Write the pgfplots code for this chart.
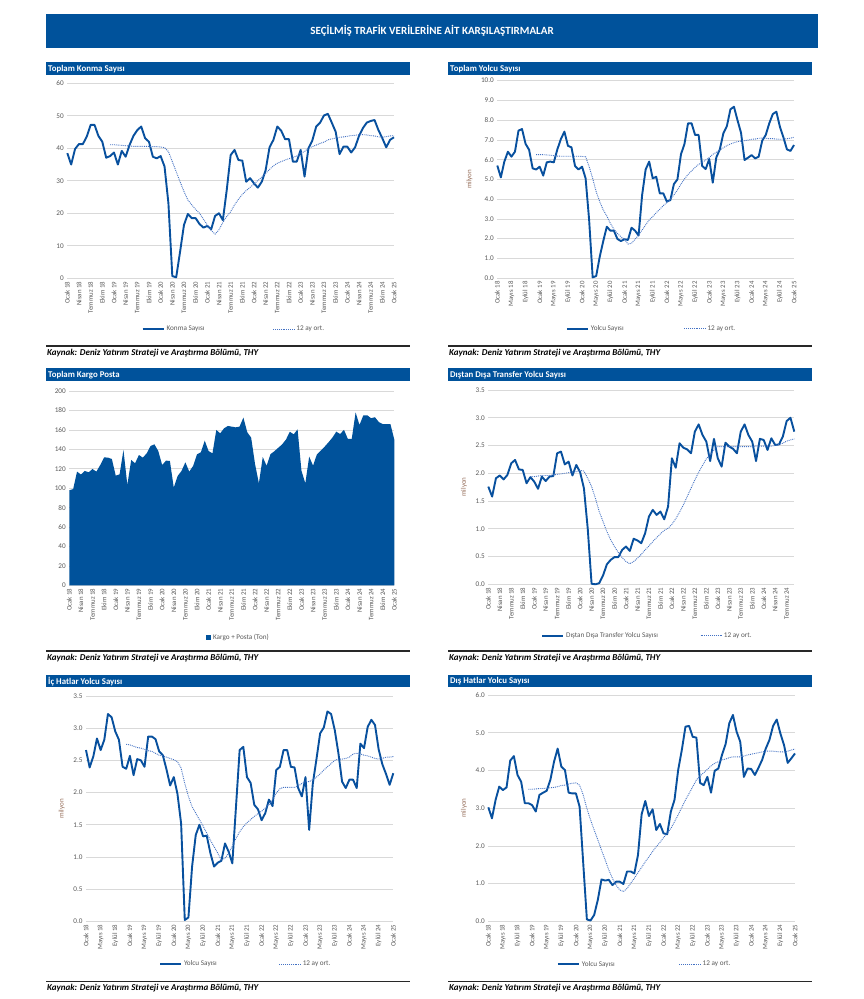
\documentclass[border=0pt]{standalone}
\usepackage{pgfplots}
\pgfplotsset{compat=1.18}
\usepackage{fontspec}
\setmainfont{Carlito}
\definecolor{hdr}{RGB}{0,82,155}
\definecolor{ln}{RGB}{8,80,158}
\definecolor{avg}{RGB}{68,114,196}
\definecolor{grd}{RGB}{217,217,217}
\definecolor{tck}{RGB}{89,89,89}
\definecolor{ylab}{RGB}{150,110,90}
\definecolor{rule}{RGB}{40,40,40}

\pgfplotsset{
  panel/.style={
    scale only axis,
    anchor=south west,
    axis line style={draw=none},
    major tick length=0pt,
    ymajorgrids, grid style={grd, line width=0.6pt},
    ymin=0,
    clip=false,
    tick label style={color=tck},
    yticklabel style={font=\fontsize{7.2}{8}\selectfont},
    xticklabel style={font=\fontsize{6.8}{7}\selectfont, rotate=90, anchor=east},
    /pgf/number format/assume math mode=true,
    legend style={draw=none, fill=none, font=\fontsize{7.2}{8}\selectfont, text=tck, legend columns=2, anchor=center},
    legend cell align=left,
    legend image code/.code={\draw[##1] (0pt,0pt) -- (21pt,0pt);},
    ylabel style={font=\fontsize{7}{8}\selectfont, color=ylab, anchor=center},
  },
  solidl/.style={ln, line width=1.9pt, line join=round},
  avgl/.style={avg, line width=0.9pt, densely dotted},
  qlab/.style={xtick={0,3,...,84}, xticklabels={Ocak 18,Nisan 18,Temmuz 18,Ekim 18,Ocak 19,Nisan 19,Temmuz 19,Ekim 19,Ocak 20,Nisan 20,Temmuz 20,Ekim 20,Ocak 21,Nisan 21,Temmuz 21,Ekim 21,Ocak 22,Nisan 22,Temmuz 22,Ekim 22,Ocak 23,Nisan 23,Temmuz 23,Ekim 23,Ocak 24,Nisan 24,Temmuz 24,Ekim 24,Ocak 25}},
  mlab/.style={xtick={0,4,...,84}, xticklabels={Ocak 18,Mayıs 18,Eylül 18,Ocak 19,Mayıs 19,Eylül 19,Ocak 20,Mayıs 20,Eylül 20,Ocak 21,Mayıs 21,Eylül 21,Ocak 22,Mayıs 22,Eylül 22,Ocak 23,Mayıs 23,Eylül 23,Ocak 24,Mayıs 24,Eylül 24,Ocak 25}},
  dec1/.style={yticklabel style={/pgf/number format/fixed, /pgf/number format/fixed zerofill, /pgf/number format/precision=1}},
}

\begin{document}
\begin{tikzpicture}[x=1pt,y=1pt]
\fill[white] (0,0) rectangle (864,999);
% main banner
\fill[hdr] (46,951) rectangle (818,985);
\node[text=white, font=\bfseries\fontsize{11}{12}\selectfont] at (432,968) {SEÇİLMİŞ TRAFİK VERİLERİNE AİT KARŞILAŞTIRMALAR};
% panel title bars
\fill[hdr] (46,924) rectangle (410,936.5);
\fill[hdr] (448,924) rectangle (812,936.5);
\fill[hdr] (46,618) rectangle (410,630.5);
\fill[hdr] (448,618) rectangle (812,630.5);
\fill[hdr] (46,312) rectangle (410,323.5);
\fill[hdr] (448,312) rectangle (812,323.5);
\begin{scope}[every node/.style={anchor=west, text=white, font=\bfseries\fontsize{8.8}{9}\selectfont, inner sep=0pt}]
\node at (48,930) {Toplam Konma Sayısı};
\node at (450,930) {Toplam Yolcu Sayısı};
\node at (48,624) {Toplam Kargo Posta};
\node at (450,624) {Dıştan Dışa Transfer Yolcu Sayısı};
\node at (48,317.7) {İç Hatlar Yolcu Sayısı};
\node at (450,317.7) {Dış Hatlar Yolcu Sayısı};
\end{scope}
% source rules and texts
\draw[rule, line width=1.2pt] (46,653) -- (410,653);
\draw[rule, line width=1.2pt] (448,653) -- (812,653);
\draw[rule, line width=1.2pt] (46,348) -- (410,348);
\draw[rule, line width=1.2pt] (448,348) -- (812,348);
\draw[rule, line width=1.2pt] (46,17.5) -- (410,17.5);
\draw[rule, line width=1.2pt] (448,17.5) -- (812,17.5);
\begin{scope}[every node/.style={anchor=west, font=\bfseries\itshape\fontsize{9}{10}\selectfont, inner sep=0pt}]
\node at (47,646.3) {Kaynak: Deniz Yatırım Strateji ve Araştırma Bölümü, THY};
\node at (449,646.3) {Kaynak: Deniz Yatırım Strateji ve Araştırma Bölümü, THY};
\node at (47,341) {Kaynak: Deniz Yatırım Strateji ve Araştırma Bölümü, THY};
\node at (449,341) {Kaynak: Deniz Yatırım Strateji ve Araştırma Bölümü, THY};
\node at (47,11) {Kaynak: Deniz Yatırım Strateji ve Araştırma Bölümü, THY};
\node at (449,11) {Kaynak: Deniz Yatırım Strateji ve Araştırma Bölümü, THY};
\end{scope}

% ---------- Panel 1: Toplam Konma Sayisi
\begin{axis}[panel, at={(67.3pt,720.7pt)}, width=326.7pt, height=195pt,
  xmin=0, xmax=84, ymax=60, ytick={0,10,...,60}, qlab,
  legend style={at={(0.51,-0.26)}, /tikz/every even column/.append style={column sep=66pt}}]
\addplot[solidl] table[row sep=\\, header=false, x expr=\coordindex, y index=0] {
38.5\\35\\39.8\\41.3\\41.3\\43.6\\47.2\\47.2\\43.8\\42\\
37.1\\37.6\\38.7\\35\\39.2\\37.4\\41\\43.8\\45.6\\46.7\\
43.1\\42\\37.4\\36.9\\37.6\\34.4\\23.1\\0.7\\0.3\\8.2\\
16.4\\19.8\\18.5\\18.5\\16.7\\15.6\\16.1\\15.1\\19.2\\20\\
17.9\\27.2\\37.9\\39.5\\36.4\\36.2\\29.7\\30.8\\29.2\\27.9\\
29.7\\33.3\\40.3\\42.6\\46.7\\45.4\\42.8\\42.8\\35.9\\35.9\\
39.5\\31.3\\40\\42.4\\46.7\\47.9\\50.1\\50.6\\47.9\\45.1\\
38.2\\40.5\\40.5\\38.7\\40.3\\43.8\\46.2\\47.9\\48.4\\48.7\\
45.6\\43.1\\40.3\\42.6\\43.4\\};
\addlegendentry{Konma Sayısı}
\addplot[avgl] table[row sep=\\, header=false, x expr=\coordindex+11, y index=0] {
41.1\\41.1\\41\\40.9\\40.8\\40.7\\40.6\\40.6\\40.6\\40.6\\40.6\\40.5\\40.5\\40.4\\
40.2\\
39\\35.9\\32.8\\29.7\\26.7\\24.1\\22.6\\21.2\\20\\18.2\\16.4\\14.7\\13.6\\
14.9\\17.2\\19\\20.5\\22.6\\24.3\\25.8\\27\\28\\29\\30.1\\31.1\\
32.3\\33.5\\34.6\\35.4\\35.9\\36.4\\36.8\\37.2\\37.6\\38.5\\39\\40\\
40.5\\41\\41.5\\41.9\\42.6\\42.9\\43.1\\43.4\\43.5\\43.7\\43.9\\44\\
44.2\\44.2\\44.1\\43.9\\43.8\\43.5\\43.4\\43.6\\43.8\\43.9\\};
\addlegendentry{12 ay ort.}
\end{axis}

% ---------- Panel 2: Toplam Yolcu Sayisi
\begin{axis}[panel, at={(497.3pt,721pt)}, width=296.7pt, height=197.3pt,
  xmin=0, xmax=84, ymax=10, ytick={0,1,...,10}, mlab, dec1,
  ylabel={milyon}, ylabel style={at={(axis description cs:-0.094,0.5)}},
  legend style={at={(0.52,-0.258)}, /tikz/every even column/.append style={column sep=58pt}}]
\addplot[solidl] table[row sep=\\, header=false, x expr=\coordindex, y index=0] {
5.7\\5.1\\5.9\\6.4\\6.15\\6.4\\7.47\\7.55\\6.8\\6.5\\
5.56\\5.5\\5.64\\5.19\\5.86\\5.9\\5.86\\6.52\\7.04\\7.42\\
6.7\\6.62\\5.68\\5.5\\5.64\\5.05\\2.94\\0.03\\0.1\\1.08\\
1.87\\2.6\\2.4\\2.4\\1.98\\1.87\\1.96\\1.93\\2.55\\2.4\\
2.15\\4.2\\5.5\\5.9\\5.05\\5.13\\4.29\\4.29\\3.87\\3.95\\
4.76\\5\\6.27\\6.8\\7.84\\7.84\\7.25\\7.25\\5.68\\5.52\\
6.03\\4.83\\6.11\\6.52\\7.33\\7.7\\8.55\\8.68\\8.0\\7.36\\
5.98\\6.1\\6.23\\6.06\\6.15\\6.96\\7.25\\7.84\\8.31\\8.43\\
7.67\\7.13\\6.52\\6.44\\6.74\\};
\addlegendentry{Yolcu Sayısı}
\addplot[avgl] table[row sep=\\, header=false, x expr=\coordindex+11, y index=0] {
6.25\\6.25\\6.25\\6.24\\6.22\\6.2\\6.18\\6.17\\6.17\\6.17\\6.17\\6.17\\6.17\\6.16\\6.15\\
5.64\\5.05\\4.37\\3.87\\3.45\\3.14\\2.77\\2.48\\2.26\\2.09\\1.96\\1.72\\1.76\\
1.96\\2.18\\2.43\\2.69\\2.94\\3.11\\3.31\\3.48\\3.67\\3.82\\3.99\\4.21\\
4.46\\4.76\\5.02\\5.25\\5.42\\5.61\\5.76\\5.86\\5.98\\6.1\\6.27\\6.37\\
6.49\\6.6\\6.71\\6.79\\6.86\\6.91\\6.94\\6.96\\6.99\\7.03\\7.04\\7.08\\
7.09\\7.08\\7.06\\7.06\\7.04\\7.03\\7.03\\7.06\\7.09\\7.13\\};
\addlegendentry{12 ay ort.}
\end{axis}

% ---------- Panel 3: Toplam Kargo Posta
\begin{axis}[panel, at={(69.3pt,413.7pt)}, width=325pt, height=194.3pt,
  xmin=0, xmax=84, ymax=200, ytick={0,20,...,200}, qlab,
  legend image code/.code={\fill[hdr] (0pt,-2.6pt) rectangle (5.2pt,2.6pt);},
  legend style={at={(0.52,-0.27)}}]
\addplot[fill=hdr, draw=none] table[row sep=\\, header=false, x expr=\coordindex, y index=0] {
97.8\\99\\117\\114\\117.7\\116.3\\119.7\\117\\123.8\\131.7\\
131.4\\130\\112.9\\114.2\\139.3\\103.3\\129\\125.6\\134.1\\131.4\\
135.8\\143.4\\145.1\\138.2\\123.8\\128.3\\128\\100.5\\112.5\\117.7\\
126.6\\117\\122.8\\134.8\\136.9\\148.9\\138.2\\135.8\\159.9\\156.4\\
161.6\\164\\163.3\\162.6\\163.3\\172.6\\157.5\\152\\125\\105\\
132\\123\\135\\138\\141.5\\145\\150\\158\\155.4\\160.5\\
118\\105\\132.4\\123.2\\134.8\\138.6\\142.7\\147.2\\152\\158.1\\
155.7\\160\\150.6\\150.6\\178\\165\\175\\175\\172\\173\\
168\\166\\166\\166\\150\\} \closedcycle;
\addlegendentry{Kargo + Posta (Ton)}
\end{axis}

% ---------- Panel 4: Distan Disa Transfer
\begin{axis}[panel, at={(488.3pt,414.7pt)}, width=306pt, height=194.3pt,
  xmin=0, xmax=80, ymax=3.5, ytick={0,0.5,...,3.5}, dec1,
  xtick={0,3,...,78}, xticklabels={Ocak 18,Nisan 18,Temmuz 18,Ekim 18,Ocak 19,Nisan 19,Temmuz 19,Ekim 19,Ocak 20,Nisan 20,Temmuz 20,Ekim 20,Ocak 21,Nisan 21,Temmuz 21,Ekim 21,Ocak 22,Nisan 22,Temmuz 22,Ekim 22,Ocak 23,Nisan 23,Temmuz 23,Ekim 23,Ocak 24,Nisan 24,Temmuz 24},
  ylabel={milyon}, ylabel style={at={(axis description cs:-0.079,0.5)}},
  legend style={at={(0.52,-0.265)}, /tikz/every even column/.append style={column sep=40pt}}]
\addplot[solidl] table[row sep=\\, header=false, x expr=\coordindex, y index=0] {
1.76\\1.58\\1.91\\1.96\\1.89\\1.97\\2.18\\2.24\\2.07\\2.06\\
1.82\\1.93\\1.85\\1.72\\1.94\\1.86\\1.94\\1.95\\2.36\\2.39\\
2.16\\2.21\\1.96\\2.15\\2.02\\1.73\\1.0\\0.01\\0\\0.02\\
0.16\\0.36\\0.44\\0.49\\0.49\\0.62\\0.68\\0.6\\0.82\\0.79\\
0.74\\0.92\\1.22\\1.34\\1.25\\1.31\\1.17\\1.4\\2.27\\2.1\\
2.54\\2.46\\2.43\\2.36\\2.75\\2.88\\2.69\\2.57\\2.22\\2.62\\
2.27\\2.12\\2.55\\2.48\\2.44\\2.36\\2.75\\2.88\\2.69\\2.57\\
2.22\\2.62\\2.6\\2.42\\2.63\\2.51\\2.52\\2.66\\2.94\\3.0\\
2.75\\};
\addlegendentry{Dıştan Dışa Transfer Yolcu Sayısı}
\addplot[avgl] table[row sep=\\, header=false, x expr=\coordindex+11, y index=0] {
1.94\\1.94\\1.95\\1.96\\1.96\\1.96\\1.97\\1.98\\1.99\\2.0\\2.01\\2.02\\2.03\\2.05\\2.04\\
1.91\\1.76\\1.55\\1.31\\1.13\\0.95\\0.8\\0.68\\0.57\\0.48\\0.41\\0.37\\
0.41\\0.47\\0.54\\0.62\\0.69\\0.77\\0.84\\0.91\\0.97\\1.01\\
1.08\\1.18\\1.3\\1.43\\1.58\\1.73\\1.88\\2.02\\2.14\\2.26\\2.34\\2.42\\2.48\\
2.48\\2.48\\2.48\\2.48\\2.48\\2.48\\2.48\\2.48\\2.48\\2.49\\2.49\\2.49\\2.49\\2.49\\2.5\\
2.52\\2.54\\2.58\\2.6\\2.62\\};
\addlegendentry{12 ay ort.}
\end{axis}

% ---------- Panel 5: Ic Hatlar
\begin{axis}[panel, at={(86pt,77.7pt)}, width=307.3pt, height=225.3pt,
  xmin=0, xmax=84, ymax=3.5, ytick={0,0.5,...,3.5}, dec1, mlab,
  ylabel={milyon}, ylabel style={at={(axis description cs:-0.079,0.5)}},
  legend style={at={(0.52,-0.19)}, /tikz/every even column/.append style={column sep=60pt}}]
\addplot[solidl] table[row sep=\\, header=false, x expr=\coordindex, y index=0] {
2.66\\2.39\\2.56\\2.84\\2.66\\2.82\\3.22\\3.17\\2.95\\2.82\\
2.4\\2.37\\2.57\\2.27\\2.52\\2.5\\2.4\\2.87\\2.87\\2.83\\
2.64\\2.58\\2.36\\2.11\\2.24\\1.98\\1.52\\0.02\\0.06\\0.85\\
1.34\\1.5\\1.32\\1.33\\1.06\\0.85\\0.91\\0.94\\1.21\\1.08\\
0.9\\1.78\\2.66\\2.71\\2.24\\2.15\\1.81\\1.74\\1.57\\1.68\\
1.89\\1.79\\2.35\\2.4\\2.66\\2.66\\2.4\\2.39\\2.07\\1.94\\
2.24\\1.42\\2.14\\2.52\\2.92\\3.01\\3.26\\3.22\\2.97\\2.61\\
2.17\\2.07\\2.2\\2.2\\2.07\\2.76\\2.69\\3.02\\3.13\\3.05\\
2.67\\2.44\\2.29\\2.12\\2.3\\};
\addlegendentry{Yolcu Sayısı}
\addplot[avgl] table[row sep=\\, header=false, x expr=\coordindex+11, y index=0] {
2.75\\2.74\\2.72\\2.7\\2.69\\2.67\\2.65\\2.64\\2.61\\2.58\\2.57\\2.55\\2.53\\2.51\\2.48\\
2.38\\2.14\\1.94\\1.78\\1.68\\1.58\\1.48\\1.37\\1.26\\1.16\\1.06\\0.95\\
0.98\\1.06\\1.17\\1.29\\1.39\\1.47\\1.53\\1.58\\1.63\\1.67\\1.71\\1.76\\
1.81\\1.89\\1.99\\2.06\\2.08\\2.08\\2.08\\2.08\\2.1\\2.14\\2.17\\2.17\\
2.2\\2.24\\2.29\\2.35\\2.4\\2.45\\2.5\\2.52\\2.52\\2.53\\2.55\\2.6\\
2.61\\2.6\\2.58\\2.57\\2.55\\2.53\\2.52\\2.53\\2.55\\2.55\\2.56\\};
\addlegendentry{12 ay ort.}
\end{axis}

% ---------- Panel 6: Dis Hatlar
\begin{axis}[panel, at={(488.3pt,77.7pt)}, width=306.7pt, height=226.3pt,
  xmin=0, xmax=84, ymax=6, ytick={0,1,...,6}, dec1, mlab,
  ylabel={milyon}, ylabel style={at={(axis description cs:-0.079,0.5)}},
  legend style={at={(0.51,-0.19)}, /tikz/every even column/.append style={column sep=62pt}}]
\addplot[solidl] table[row sep=\\, header=false, x expr=\coordindex, y index=0] {
3.02\\2.73\\3.22\\3.57\\3.48\\3.55\\4.26\\4.38\\3.88\\3.7\\
3.13\\3.13\\3.08\\2.91\\3.35\\3.41\\3.46\\3.75\\4.23\\4.58\\
4.1\\4.01\\3.41\\3.39\\3.39\\3.04\\1.54\\0.05\\0.02\\0.17\\
0.57\\1.11\\1.08\\1.1\\0.96\\1.05\\1.05\\0.99\\1.32\\1.32\\
1.27\\1.76\\2.84\\3.19\\2.79\\2.97\\2.42\\2.58\\2.33\\2.31\\
2.91\\3.22\\4.01\\4.54\\5.16\\5.18\\4.89\\4.87\\3.67\\3.61\\
3.83\\3.41\\3.99\\4.05\\4.41\\4.7\\5.25\\5.47\\5.03\\4.76\\
3.83\\4.05\\4.04\\3.88\\4.07\\4.28\\4.58\\4.81\\5.18\\5.35\\
4.98\\4.67\\4.2\\4.32\\4.45\\};
\addlegendentry{Yolcu Sayısı}
\addplot[avgl] table[row sep=\\, header=false, x expr=\coordindex+11, y index=0] {
3.5\\3.5\\3.51\\3.52\\3.52\\3.53\\3.54\\3.55\\3.57\\3.6\\3.61\\3.64\\3.66\\3.67\\3.61\\
3.35\\2.99\\2.69\\2.42\\2.16\\1.89\\1.63\\1.36\\1.14\\0.96\\0.83\\0.79\\
0.87\\1.01\\1.14\\1.29\\1.43\\1.58\\1.71\\1.85\\1.98\\2.09\\2.22\\2.33\\
2.46\\2.64\\2.82\\3.02\\3.22\\3.39\\3.57\\3.75\\3.85\\3.94\\4.03\\4.12\\
4.19\\4.23\\4.28\\4.3\\4.34\\4.36\\4.36\\4.36\\4.38\\4.41\\4.43\\4.45\\
4.47\\4.49\\4.51\\4.51\\4.51\\4.5\\4.49\\4.49\\4.51\\4.54\\4.57\\};
\addlegendentry{12 ay ort.}
\end{axis}
\end{tikzpicture}
\end{document}
